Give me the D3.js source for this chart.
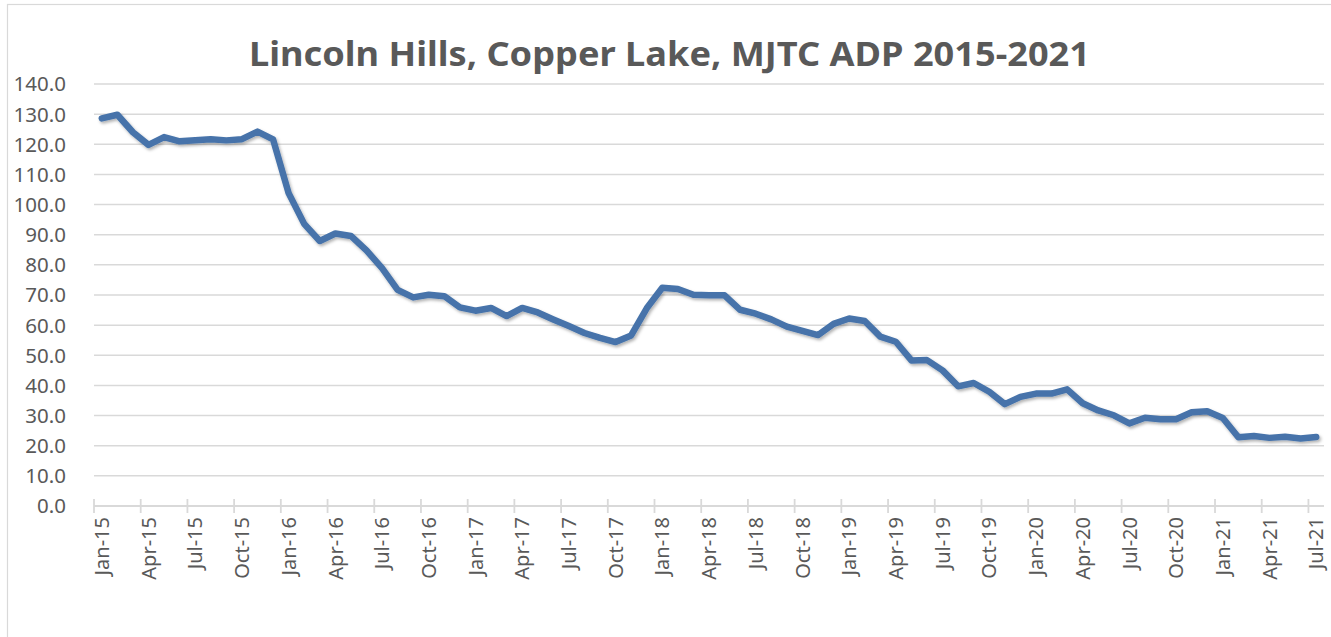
<!DOCTYPE html>
<html lang="en">
<head>
<meta charset="UTF-8">
<script src="https://d3js.org/d3.v7.min.js"></script>
<title>Lincoln Hills, Copper Lake, MJTC ADP 2015-2021</title>
<style>
  body { margin: 0; background: #fff; }
  text { font-family: "Noto Sans", "Open Sans", sans-serif; fill: #595959; }
</style>
</head>
<body>
<svg id="chart" width="1331" height="637"></svg>
<script>
// ADP by month, Jan-15 .. Jul-21
const titleText = "Lincoln Hills, Copper Lake, MJTC ADP 2015-2021";
const months = d3.timeMonths(new Date(2015, 0, 1), new Date(2021, 7, 1));
const adp = [
  128.6, 129.8, 124.0, 119.8, 122.4, 121.0, 121.3, 121.7, 121.3, 121.7, 124.2, 121.6,
  103.8, 93.6, 87.9, 90.4, 89.6, 84.8, 78.9, 71.7, 69.2, 70.1, 69.6, 65.9,
  64.8, 65.7, 63.0, 65.7, 64.2, 61.9, 59.7, 57.4, 55.8, 54.4, 56.6, 65.6,
  72.4, 72.0, 70.1, 69.9, 69.9, 65.1, 63.8, 61.9, 59.5, 58.1, 56.7, 60.4,
  62.2, 61.4, 56.2, 54.5, 48.3, 48.4, 45.0, 39.7, 40.8, 37.9, 33.8, 36.2,
  37.3, 37.3, 38.7, 34.1, 31.7, 30.1, 27.4, 29.3, 28.8, 28.8, 31.1, 31.4,
  29.2, 22.8, 23.2, 22.6, 23.0, 22.4, 22.9
];
const yTicks = [0, 10, 20, 30, 40, 50, 60, 70, 80, 90, 100, 110, 120, 130, 140];

const svg = d3.select("#chart");
const plot = { left: 94, right: 1324, top: 84, bottom: 506 };

const x = d3.scaleBand().domain(months).range([plot.left, plot.right]).padding(0);
const bw = x.bandwidth();
const y = d3.scaleLinear().domain([0, 140]).range([plot.bottom, plot.top]);
const fmtMonth = d3.timeFormat("%b-%y");

// chart frame
svg.append("rect")
  .attr("x", 7.5).attr("y", 4.5)
  .attr("width", 1340).attr("height", 650)
  .attr("fill", "#fff").attr("stroke", "#d9d9d9").attr("stroke-width", 1.2);

// title
svg.append("text")
  .attr("x", 669.5).attr("y", 66)
  .attr("text-anchor", "middle")
  .attr("font-size", 34).attr("font-weight", "bold")
  .attr("textLength", 841).attr("lengthAdjust", "spacingAndGlyphs")
  .text(titleText);

// gridlines + y labels
const grid = svg.append("g");
grid.selectAll("line").data(yTicks.filter(d => d > 0)).join("line")
  .attr("x1", plot.left).attr("x2", plot.right)
  .attr("y1", d => y(d)).attr("y2", d => y(d))
  .attr("stroke", "#d9d9d9").attr("stroke-width", 1.5);

svg.append("g").selectAll("text").data(yTicks).join("text")
  .attr("x", 66).attr("y", d => y(d)).attr("dy", "0.36em")
  .attr("text-anchor", "end").attr("font-size", 20.5)
  .text(d => d3.format(".1f")(d));

// x axis
const xAxis = svg.append("g");
xAxis.append("line")
  .attr("x1", plot.left).attr("x2", plot.right)
  .attr("y1", y(0)).attr("y2", y(0))
  .attr("stroke", "#d9d9d9").attr("stroke-width", 1.8);

const tickMonths = months.filter((d, i) => i % 3 === 0);
xAxis.selectAll("line.tick").data(tickMonths).join("line")
  .attr("class", "tick")
  .attr("x1", d => x(d)).attr("x2", d => x(d))
  .attr("y1", y(0) - 7).attr("y2", y(0) + 7)
  .attr("stroke", "#d9d9d9").attr("stroke-width", 1.8);

xAxis.selectAll("text").data(tickMonths).join("text")
  .attr("transform", d => `translate(${x(d) + bw / 2},${y(0) + 11}) rotate(-90)`)
  .attr("dy", "0.36em")
  .attr("text-anchor", "end").attr("font-size", 20)
  .text(d => fmtMonth(d));

// line with soft shadow
const defs = svg.append("defs");
const f = defs.append("filter").attr("id", "shadow")
  .attr("x", "-5%").attr("y", "-5%").attr("width", "110%").attr("height", "120%");
f.append("feDropShadow").attr("dx", 1.5).attr("dy", 2).attr("stdDeviation", 1.5)
  .attr("flood-color", "#000").attr("flood-opacity", 0.3);

const lineGen = d3.line()
  .x((d, i) => x(months[i]) + bw / 2)
  .y(d => y(d));

svg.append("path")
  .datum(adp)
  .attr("fill", "none")
  .attr("stroke", "#4673AA")
  .attr("stroke-width", 6.5)
  .attr("stroke-linejoin", "round")
  .attr("stroke-linecap", "round")
  .attr("filter", "url(#shadow)")
  .attr("d", lineGen);
</script>
</body>
</html>
